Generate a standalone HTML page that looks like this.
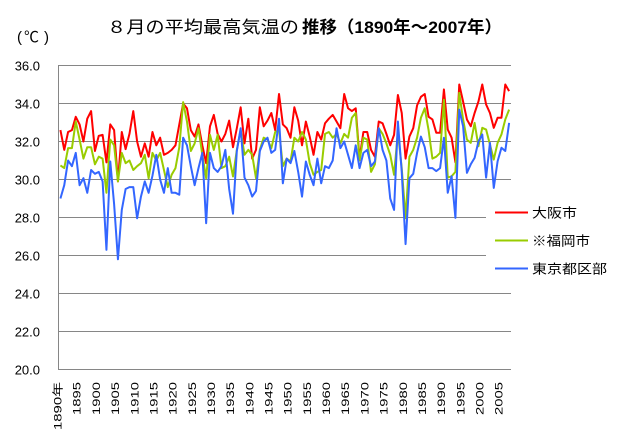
<!DOCTYPE html>
<html>
<head>
<meta charset="utf-8">
<style>
  html, body { margin:0; padding:0; background:#fff; }
  svg { display:block; }
  text { font-family: "Liberation Sans", "Noto Sans CJK JP", sans-serif; fill:#000; }
</style>
</head>
<body>
<svg width="618" height="437" viewBox="0 0 618 437" xmlns="http://www.w3.org/2000/svg">
  <rect x="0" y="0" width="618" height="437" fill="#fff"/>

  <!-- Title -->
  <text x="107" y="33" font-size="17" textLength="192" lengthAdjust="spacingAndGlyphs">８月の平均最高気温の</text>
  <text x="302" y="33" font-size="17" font-weight="bold" textLength="200" lengthAdjust="spacingAndGlyphs">推移（1890年～2007年）</text>

  <!-- unit -->
  <text x="17" y="42" font-size="15">(</text>
  <text x="24" y="42" font-size="15">℃</text>
  <text x="44" y="42" font-size="15">)</text>

  <!-- gridlines -->
  <g stroke="#868686" stroke-width="1" fill="none">
    <line x1="58.5" y1="65.5" x2="511" y2="65.5"/>
    <line x1="58.5" y1="103.5" x2="511" y2="103.5"/>
    <line x1="58.5" y1="141.5" x2="511" y2="141.5"/>
    <line x1="58.5" y1="179.5" x2="511" y2="179.5"/>
    <line x1="58.5" y1="217.5" x2="486" y2="217.5"/>
    <line x1="58.5" y1="255.5" x2="486" y2="255.5"/>
    <line x1="58.5" y1="293.5" x2="511" y2="293.5"/>
    <line x1="58.5" y1="331.5" x2="511" y2="331.5"/>
    <line x1="58.5" y1="369.5" x2="511" y2="369.5"/>
    <line x1="58.5" y1="65" x2="58.5" y2="370"/>
  </g>

  <!-- y labels -->
  <g font-size="13" text-anchor="end">
    <text x="40" y="70.5">36.0</text>
    <text x="40" y="108.5">34.0</text>
    <text x="40" y="146.5">32.0</text>
    <text x="40" y="184.5">30.0</text>
    <text x="40" y="222.5">28.0</text>
    <text x="40" y="260.5">26.0</text>
    <text x="40" y="298.5">24.0</text>
    <text x="40" y="336.5">22.0</text>
    <text x="40" y="374.5">20.0</text>
  </g>

  <!-- x labels -->
  <g font-size="11" text-anchor="end">
    <text transform="translate(61.5,382) rotate(-90)" textLength="48" lengthAdjust="spacingAndGlyphs">1890年</text>
    <text transform="translate(80.7,382) rotate(-90)" textLength="33" lengthAdjust="spacingAndGlyphs">1895</text>
    <text transform="translate(99.9,382) rotate(-90)" textLength="33" lengthAdjust="spacingAndGlyphs">1900</text>
    <text transform="translate(119.1,382) rotate(-90)" textLength="33" lengthAdjust="spacingAndGlyphs">1905</text>
    <text transform="translate(138.3,382) rotate(-90)" textLength="33" lengthAdjust="spacingAndGlyphs">1910</text>
    <text transform="translate(157.4,382) rotate(-90)" textLength="33" lengthAdjust="spacingAndGlyphs">1915</text>
    <text transform="translate(176.6,382) rotate(-90)" textLength="33" lengthAdjust="spacingAndGlyphs">1920</text>
    <text transform="translate(195.8,382) rotate(-90)" textLength="33" lengthAdjust="spacingAndGlyphs">1925</text>
    <text transform="translate(215.0,382) rotate(-90)" textLength="33" lengthAdjust="spacingAndGlyphs">1930</text>
    <text transform="translate(234.2,382) rotate(-90)" textLength="33" lengthAdjust="spacingAndGlyphs">1935</text>
    <text transform="translate(253.3,382) rotate(-90)" textLength="33" lengthAdjust="spacingAndGlyphs">1940</text>
    <text transform="translate(272.5,382) rotate(-90)" textLength="33" lengthAdjust="spacingAndGlyphs">1945</text>
    <text transform="translate(291.7,382) rotate(-90)" textLength="33" lengthAdjust="spacingAndGlyphs">1950</text>
    <text transform="translate(310.9,382) rotate(-90)" textLength="33" lengthAdjust="spacingAndGlyphs">1955</text>
    <text transform="translate(330.1,382) rotate(-90)" textLength="33" lengthAdjust="spacingAndGlyphs">1960</text>
    <text transform="translate(349.2,382) rotate(-90)" textLength="33" lengthAdjust="spacingAndGlyphs">1965</text>
    <text transform="translate(368.4,382) rotate(-90)" textLength="33" lengthAdjust="spacingAndGlyphs">1970</text>
    <text transform="translate(387.6,382) rotate(-90)" textLength="33" lengthAdjust="spacingAndGlyphs">1975</text>
    <text transform="translate(406.8,382) rotate(-90)" textLength="33" lengthAdjust="spacingAndGlyphs">1980</text>
    <text transform="translate(426.0,382) rotate(-90)" textLength="33" lengthAdjust="spacingAndGlyphs">1985</text>
    <text transform="translate(445.1,382) rotate(-90)" textLength="33" lengthAdjust="spacingAndGlyphs">1990</text>
    <text transform="translate(464.3,382) rotate(-90)" textLength="33" lengthAdjust="spacingAndGlyphs">1995</text>
    <text transform="translate(483.5,382) rotate(-90)" textLength="33" lengthAdjust="spacingAndGlyphs">2000</text>
    <text transform="translate(502.7,382) rotate(-90)" textLength="33" lengthAdjust="spacingAndGlyphs">2005</text>
  </g>

  <!-- series: data coords (i, value) mapped x=60.42+3.835i, y=749.5-19v -->
  <g transform="matrix(3.835 0 0 -19 60.42 749.5)" fill="none" stroke-width="2" stroke-linejoin="round">
    <polyline vector-effect="non-scaling-stroke" stroke="#FF0000" points="0,32.6 1,31.56 2,32.5 3,32.6 4,33.3 5,32.9 6,32.0 7,33.2 8,33.6 9,31.5 10,32.3 11,32.35 12,30.9 13,32.9 14,32.6 15,29.9 16,32.5 17,31.6 18,32.4 19,33.6 20,32.0 21,31.2 22,31.9 23,31.2 24,32.5 25,31.8 26,32.2 27,31.3 28,31.4 29,31.56 30,31.8 31,32.9 32,34.0 33,33.75 34,32.6 35,32.26 36,32.9 37,31.8 38,30.86 39,32.8 40,33.4 41,32.4 42,32.0 43,32.4 44,33.1 45,31.7 46,32.7 47,33.8 48,31.9 49,33.2 50,31.1 51,31.56 52,33.8 53,32.8 54,33.1 55,33.5 56,32.6 57,34.5 58,32.9 59,32.7 60,32.2 61,33.8 62,33.1 63,31.8 64,33.05 65,32.26 66,31.3 67,32.5 68,32.1 69,32.96 70,33.2 71,33.4 72,33.05 73,32.7 74,34.5 75,33.75 76,33.6 77,33.75 78,31.1 79,32.5 80,32.5 81,31.56 82,31.2 83,33.05 84,32.96 85,32.4 86,31.8 87,32.35 88,34.45 89,33.5 90,31.1 91,32.26 92,32.7 93,33.9 94,34.35 95,34.5 96,33.3 97,33.16 98,32.46 99,32.46 100,34.74 101,32.63 102,32.2 103,30.9 104,35.0 105,34.1 106,33.16 107,32.8 108,33.5 109,34.1 110,35.0 111,33.95 112,33.5 113,32.72 114,33.25 115,33.25 116,35.0 117,34.65"/>
    <polyline vector-effect="non-scaling-stroke" stroke="#99CC00" points="0,30.74 1,30.6 2,31.65 3,31.65 4,33.05 5,32.1 6,31.1 7,31.7 8,31.7 9,30.8 10,31.2 11,31.1 12,29.3 13,32.1 14,31.8 15,29.9 16,31.4 17,30.86 18,31.0 19,30.5 20,30.7 21,30.86 22,31.3 23,30.07 24,31.4 25,31.0 26,31.4 27,30.5 28,29.6 29,30.25 30,30.6 31,31.7 32,34.07 33,33.05 34,31.5 35,31.9 36,32.7 37,31.3 38,30.07 39,32.35 40,31.56 41,32.35 42,30.6 43,30.7 44,31.2 45,30.16 46,31.56 47,32.6 48,31.3 49,31.56 50,31.3 51,30.07 52,31.56 53,32.2 54,32.1 55,31.65 56,32.5 57,32.6 58,30.7 59,31.1 60,30.95 61,32.2 62,32.0 63,32.5 64,32.1 65,30.86 66,30.25 67,30.4 68,30.5 69,32.4 70,32.5 71,32.2 72,32.4 73,31.9 74,32.4 75,32.2 76,33.25 77,33.5 78,31.0 79,32.2 80,32.1 81,30.4 82,30.8 83,32.7 84,32.4 85,31.9 86,31.3 87,30.25 88,32.5 89,30.6 90,27.96 91,31.2 92,31.56 93,32.2 94,33.25 95,33.75 96,32.6 97,31.1 98,31.2 99,31.4 100,34.2 101,30.1 102,30.17 103,30.4 104,34.56 105,33.16 106,32.1 107,31.93 108,32.98 109,31.75 110,32.72 111,32.63 112,31.84 113,31.05 114,31.93 115,32.37 116,33.16 117,33.68"/>
    <polyline vector-effect="non-scaling-stroke" stroke="#3366FF" points="0,29.0 1,29.7 2,31.0 3,30.7 4,31.4 5,29.7 6,30.07 7,29.3 8,30.5 9,30.3 10,30.4 11,29.9 12,26.3 13,30.95 14,28.7 15,25.8 16,28.4 17,29.5 18,29.6 19,29.6 20,27.96 21,29.1 22,29.9 23,29.3 24,30.2 25,31.3 26,30.0 27,29.3 28,30.6 29,29.3 30,29.3 31,29.2 32,32.2 33,31.8 34,30.7 35,29.7 36,30.6 37,31.4 38,27.7 39,31.4 40,30.6 41,30.4 42,30.7 43,31.56 44,29.5 45,28.2 46,31.5 47,32.7 48,30.1 49,29.7 50,29.1 51,29.4 52,31.5 53,32.0 54,32.2 55,31.4 56,31.56 57,33.2 58,29.8 59,31.1 60,30.86 61,31.5 62,30.4 63,29.1 64,30.95 65,30.25 66,29.7 67,31.1 68,29.8 69,30.7 70,30.6 71,31.0 72,32.7 73,31.65 74,32.0 75,31.3 76,30.6 77,31.8 78,30.6 79,31.4 80,31.56 81,30.7 82,30.95 83,32.7 84,31.56 85,31.0 86,29.0 87,28.4 88,33.05 89,30.4 90,26.6 91,30.07 92,30.3 93,31.4 94,32.26 95,31.7 96,30.6 97,30.6 98,30.44 99,30.6 100,32.2 101,29.3 102,30.17 103,27.98 104,33.68 105,32.8 106,30.35 107,30.8 108,31.14 109,32.0 110,32.37 111,30.1 112,31.93 113,29.56 114,30.96 115,31.67 116,31.5 117,32.98"/>
  </g>

  <!-- legend -->
  <g stroke-width="2">
    <line x1="495" y1="212.5" x2="528" y2="212.5" stroke="#FF0000"/>
    <line x1="495" y1="240.5" x2="528" y2="240.5" stroke="#99CC00"/>
    <line x1="495" y1="268.5" x2="528" y2="268.5" stroke="#3366FF"/>
  </g>
  <g font-size="13">
    <text x="532" y="217.5" textLength="45" lengthAdjust="spacingAndGlyphs">大阪市</text>
    <text x="532" y="245.5" textLength="58" lengthAdjust="spacingAndGlyphs">※福岡市</text>
    <text x="532" y="273.5" textLength="75" lengthAdjust="spacingAndGlyphs">東京都区部</text>
  </g>
</svg>
</body>
</html>
